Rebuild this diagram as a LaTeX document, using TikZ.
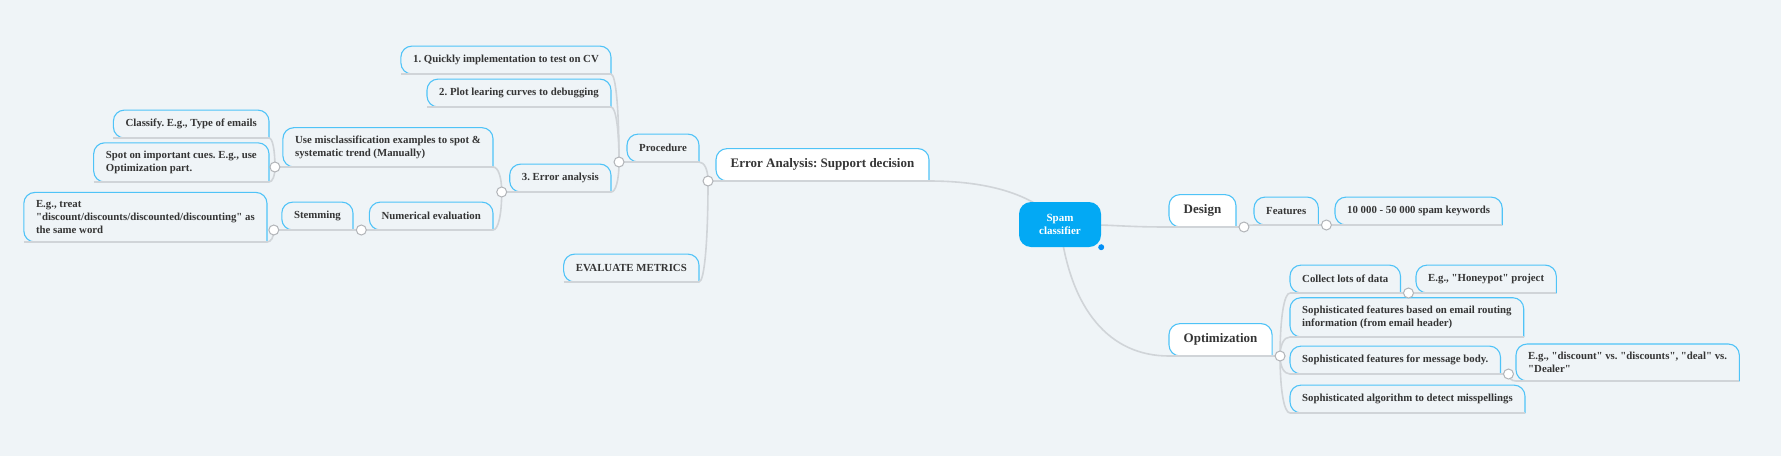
\documentclass[tikz,border=0pt]{standalone}
\usepackage{fontspec}
\setmainfont{Liberation Serif}
\usepackage{tikz}
\usepackage{xcolor}
\usetikzlibrary{calc,backgrounds}
\frenchspacing

\definecolor{paper}{HTML}{EFF4F7}
\definecolor{sky}{HTML}{4FC3F7}
\definecolor{rootblue}{HTML}{03A9F4}
\definecolor{ink}{HTML}{353535}
\definecolor{wire}{HTML}{D0D4D8}

\newcommand{\dq}{\textquotedbl}

\tikzset{
  topic/.style={font=\fontsize{10.8}{13}\selectfont\bfseries, text=ink, align=left,
    inner xsep=12pt, inner ysep=8pt, minimum height=27.5pt},
  branch/.style={topic, font=\fontsize{13}{15}\selectfont\bfseries,
    inner xsep=14.5pt, minimum height=32pt},
  root/.style={font=\fontsize{11}{13.5}\selectfont\bfseries, text=white, align=center,
    fill=rootblue, rounded corners=12pt, minimum width=82pt, minimum height=45pt},
  frame/.style={draw=sky, line width=1.1pt, rounded corners=11pt},
  link/.style={draw=wire, line width=1.6pt},
  knob/.style={draw=wire!85!black, fill=white, line width=1pt}
}

\begin{document}
\begin{tikzpicture}[x=1pt,y=-1pt,line cap=round]
        % the central topic
        \node[root] (spam) at (1060,224.5) {Spam\\classifier};
        \fill[rootblue!85!blue] (spam.south east) circle (3pt);

        % left side: error analysis
        \node[branch,anchor=south east] (err) at (929,181) {Error Analysis: Support decision};
        \node[topic,anchor=south east] (proc) at (699,162) {Procedure};
        \node[topic,anchor=south east] (eval) at (699,282) {EVALUATE METRICS};
        \node[topic,anchor=south east] (q1) at (611,74) {1. Quickly implementation to test on CV};
        \node[topic,anchor=south east] (q2) at (611,107) {2. Plot learing curves to debugging};
        \node[topic,anchor=south east] (q3) at (611,192) {3. Error analysis};
        \node[topic,anchor=south east] (usemis) at (493,167) {Use misclassification examples to spot \&\\systematic trend (Manually)};
        \node[topic,anchor=south east] (numer) at (493,230) {Numerical evaluation};
        \node[topic,anchor=south east] (classify) at (269,138) {Classify. E.g., Type of emails};
        \node[topic,anchor=south east] (spot) at (269,182) {Spot on important cues. E.g., use\\Optimization part.};
        \node[topic,anchor=south east] (stem) at (353,230) {Stemming};
        \node[topic,anchor=south east] (treat) at (267,242) {E.g., treat\\\dq discount/discounts/discounted/discounting\dq{} as\\the same word};

        % right side: design and optimization
        \node[branch,anchor=south west] (design) at (1169,227) {Design};
        \node[topic,anchor=south west] (features) at (1254,225) {Features};
        \node[topic,anchor=south west] (keywords) at (1335,225) {10 000 - 50 000 spam keywords};
        \node[branch,anchor=south west] (opt) at (1169,356) {Optimization};
        \node[topic,anchor=south west] (collect) at (1290,293) {Collect lots of data};
        \node[topic,anchor=south west] (honeypot) at (1416,293) {E.g., \dq Honeypot\dq{} project};
        \node[topic,anchor=south west] (routing) at (1290,337) {Sophisticated features based on email routing\\information (from email header)};
        \node[topic,anchor=south west] (body) at (1290,374) {Sophisticated features for message body.};
        \node[topic,anchor=south west] (discount) at (1516,381) {E.g., \dq discount\dq{} vs. \dq discounts\dq, \dq deal\dq{} vs.\\\dq Dealer\dq};
        \node[topic,anchor=south west] (algo) at (1290,413) {Sophisticated algorithm to detect misspellings};

        % junction points
        \foreach \n in {err,proc,q3,usemis,numer,stem}
                \coordinate (j\n) at ([xshift=-8pt]\n.south west);
        \foreach \n in {design,features,opt,collect,body}
                \coordinate (j\n) at ([xshift=8pt]\n.south east);

        \begin{scope}[on background layer]
                % the page
                \fill[paper] (0,0) rectangle (1781,456);

                % the frames round the topics
                \foreach \n/\c in {err/white,design/white,opt/white,proc/paper,eval/paper,
                    q1/paper,q2/paper,q3/paper,usemis/paper,numer/paper,classify/paper,
                    spot/paper,stem/paper,treat/paper,features/paper,keywords/paper,
                    collect/paper,honeypot/paper,routing/paper,body/paper,discount/paper,algo/paper}
                        \filldraw[frame,fill=\c] (\n.south east) -- (\n.north east)
                            -- (\n.north west) -- (\n.south west) -- (\n.south east);

                % lines under the topics
                \foreach \n in {err,design,opt,proc,eval,q1,q2,q3,usemis,numer,classify,
                    spot,stem,treat,features,keywords,collect,honeypot,routing,body,discount,algo}
                        \draw[link] (\n.south west) -- (\n.south east);
                \foreach \n in {err,proc,q3,usemis,numer,stem}
                        \draw[link] (j\n) -- (\n.south west);
                \foreach \n in {design,features,opt,collect,body}
                        \draw[link] (\n.south east) -- (j\n);

                % from the central topic to the branches
                \draw[link] (err.south east) .. controls ($(err.south east)+(70,0)$)
                    and ($(spam.center)+(-20,-25)$) .. (spam.center);
                \draw[link] (spam.center) .. controls ($(spam.center)+(60,0)$)
                    and ($(design.south west)+(-50,0)$) .. (design.south west);
                \draw[link] (spam.center) .. controls ($(spam.center)+(10,86)$)
                    and ($(opt.south west)+(-59,0)$) .. (opt.south west);

                % left children to their junctions
                \foreach \c/\p in {proc/err,eval/err,q1/proc,q2/proc,q3/proc,usemis/q3,
                    numer/q3,classify/usemis,spot/usemis,stem/numer,treat/stem} {
                        \coordinate (k) at (j\p |- \c.south east);
                        \draw[link] (j\p) .. controls ($(j\p)!.6!(k)$)
                            and ($(\c.south east)!.6!(k)$) .. (\c.south east);
                }

                % right children to their junctions
                \foreach \c/\p in {features/design,keywords/features,collect/opt,routing/opt,
                    body/opt,algo/opt,honeypot/collect,discount/body} {
                        \coordinate (k) at (j\p |- \c.south west);
                        \draw[link] (j\p) .. controls ($(j\p)!.6!(k)$)
                            and ($(\c.south west)!.6!(k)$) .. (\c.south west);
                }
        \end{scope}

        % the junction knobs
        \foreach \n in {err,proc,q3,usemis,numer,stem,design,features,opt,collect,body}
                \draw[knob] (j\n) circle (5pt);
\end{tikzpicture}
\end{document}
